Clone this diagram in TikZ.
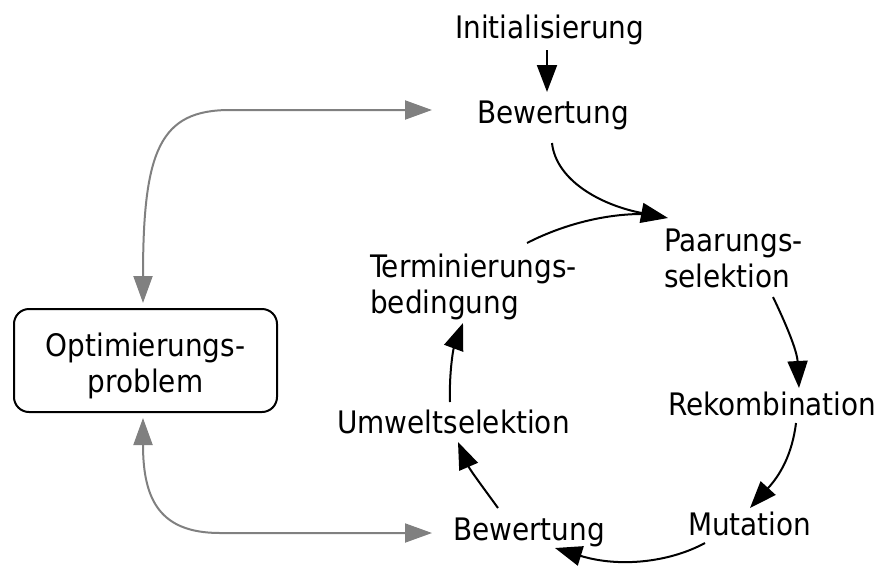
\documentclass[tikz,border=0pt]{standalone}
\usepackage{fontspec}
\setmainfont{DejaVu Sans Condensed}
\usetikzlibrary{arrows.meta,calc}
\tikzset{
  lbl/.style={anchor=base west,inner sep=0pt,font=\fontsize{31}{36.5}\selectfont},
  flow/.style={line width=2pt,black,-{Triangle[length=27pt,width=20pt]}},
  flowplain/.style={line width=2pt,black},
  link/.style={line width=2pt,draw=linkgray,{Triangle[length=27pt,width=19pt,fill=linkgray]}-{Triangle[length=27pt,width=19pt,fill=linkgray]}},
  probbox/.style={draw,line width=2pt,rounded corners=15pt,minimum width=263pt,minimum height=103pt,inner sep=0pt}
}
\definecolor{linkgray}{RGB}{128,128,128}
\begin{document}
\begin{tikzpicture}[x=1pt,y=-1pt]
\useasboundingbox (0,0) rectangle (877,565);
\node[lbl] (ini) at (455,38) {Initialisierung};
\node[lbl] (bew1) at (477,123) {Bewertung};
\node[lbl] (paar) at (664,251) {\begin{tabular}[t]{@{}l@{}}Paarungs-\\selektion\end{tabular}};
\node[lbl] (rek) at (668,415) {Rekombination};
\node[lbl] (mut) at (688,535) {Mutation};
\node[lbl] (bew2) at (453,540) {Bewertung};
\node[lbl] (umw) at (337,433) {Umweltselektion};
\node[lbl] (term) at (370,277) {\begin{tabular}[t]{@{}l@{}}Terminierungs-\\bedingung\end{tabular}};
\node[probbox] (opt) at (145.5,360.5) {};
\node[lbl,anchor=base] (optt) at (145.5,356) {\begin{tabular}[t]{@{}c@{}}Optimierungs-\\problem\end{tabular}};

\draw[flow] ($(ini.base west)+(92,12)$) -- ($(bew1.base west)+(70,-31)$);
\draw[flow] ($(bew1.base west)+(75,20)$) .. controls +(4,37) and +(-68,-13) .. ($(paar.base west)+(4,-33)$);
\draw[flowplain] ($(term.base west)+(157,-34)$) .. controls +(33,-17) and +(-40,0) .. ($(paar.base west)+(-22,-37)$);
\draw[flow] ($(paar.base west)+(109,46)$) .. controls +(12,25) and +(-2,-38) .. ($(rek.base west)+(131,-27)$);
\draw[flow] ($(rek.base west)+(128,8)$) .. controls +(-4,32) and +(30,-33) .. ($(mut.base west)+(62,-27)$);
\draw[flow] ($(mut.base west)+(17,8)$) .. controls +(-35,19) and +(65,20) .. ($(bew2.base west)+(102,8)$);
\draw[flow] ($(bew2.base west)+(45,-32)$) .. controls +(-13,-18) and +(12,28) .. ($(umw.base west)+(121,9)$);
\draw[flow] ($(umw.base west)+(113,-31)$) .. controls +(-1,-27) and +(-10,27) .. ($(term.base west)+(93,46)$);

\draw[link] ($(bew1.base west)+(-45,-13)$) -- ++(-202,0) .. controls +(-70,0) and +(0,-153) .. ($(opt.north)+(-2.5,-5)$);
\draw[link] ($(bew2.base west)+(-21,-7)$) -- ++(-212,0) .. controls +(-60,0) and +(0,82) .. ($(opt.south)+(-2.5,5)$);
\end{tikzpicture}
\end{document}
